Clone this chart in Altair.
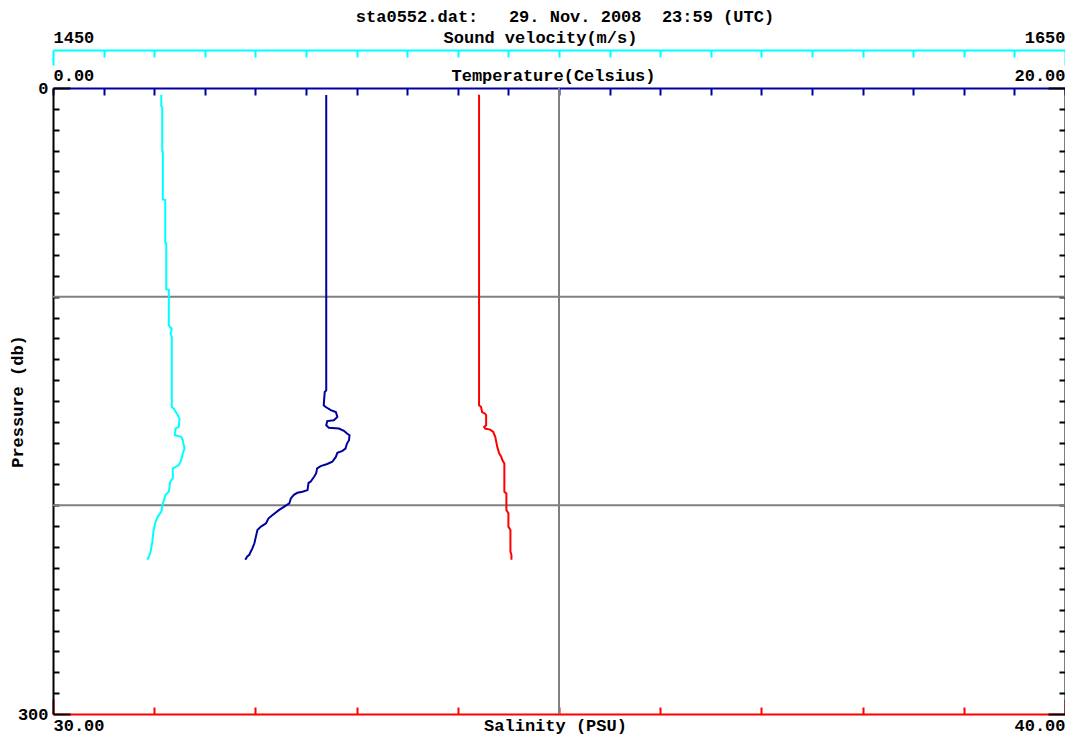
import altair as alt
import pandas as pd

W, H = 1012, 626

# Sound velocity profile (m/s) vs pressure (db)
cyan_p = [3.2, 8.7, 9.2, 30.2, 30.5, 53.4, 53.7, 74.0, 74.3, 96.4, 96.7, 113.8, 115.5, 117.8,
          119.4, 152.9, 153.7, 156.8, 158.5, 162.4, 163.2, 166.4, 167.2, 168.8, 172.8, 175.2,
          178.3, 180.7, 181.5, 182.3, 187.1, 188.7, 193.5, 195.0, 199.1, 203.0, 205.4, 207.8,
          211.8, 217.4, 222.2, 224.5, 226.1]
cyan_v = [1471.40, 1471.40, 1471.59, 1471.59, 1471.71, 1471.71, 1472.18, 1472.18, 1472.38,
          1472.38, 1472.89, 1472.89, 1473.48, 1473.23, 1473.48, 1473.48, 1473.88, 1474.67,
          1475.00, 1474.86, 1474.21, 1474.07, 1475.33, 1475.65, 1475.98, 1475.65, 1475.33,
          1474.86, 1474.35, 1473.68, 1473.68, 1473.17, 1472.89, 1472.24, 1471.71, 1471.40,
          1470.73, 1470.28, 1469.88, 1469.63, 1469.29, 1468.96, 1468.64]

# Temperature profile (Celsius)
temp_p = [3.3, 138.5, 144.9, 145.7, 152.1, 152.9, 154.4, 155.3, 157.6, 159.2, 159.6, 161.6,
          162.8, 163.2, 164.3, 165.6, 166.4, 168.8, 170.4, 172.8, 173.9, 174.8, 176.8, 179.1,
          180.2, 181.2, 182.3, 184.7, 186.3, 188.7, 189.2, 192.7, 193.5, 194.0, 195.0, 196.7,
          199.1, 200.6, 202.2, 204.6, 206.2, 208.6, 210.2, 211.8, 215.0, 218.2, 220.6, 222.1,
          223.7, 224.5, 226.1]
temp_t = [5.40, 5.40, 5.40, 5.37, 5.35, 5.39, 5.49, 5.59, 5.62, 5.55, 5.42, 5.40,
          5.45, 5.65, 5.75, 5.81, 5.86, 5.85, 5.81, 5.78, 5.72, 5.62, 5.59, 5.52,
          5.42, 5.29, 5.22, 5.20, 5.16, 5.09, 5.05, 5.03, 4.93, 4.83, 4.76, 4.70,
          4.67, 4.57, 4.47, 4.34, 4.26, 4.21, 4.11, 4.04, 4.01, 3.98, 3.94, 3.91,
          3.88, 3.84, 3.80]

# Salinity profile (PSU)
sal_p = [3.2, 152.1, 152.9, 155.3, 156.1, 156.8, 161.6, 162.4, 163.2, 163.7, 164.8, 167.2,
         169.6, 172.0, 175.2, 176.8, 178.3, 180.0, 193.5, 194.3, 202.2, 203.8, 210.2, 211.8,
         222.1, 223.7, 226.1]
sal_s = [34.21, 34.21, 34.23, 34.24, 34.27, 34.28, 34.28, 34.26, 34.27, 34.32, 34.35, 34.37,
         34.38, 34.39, 34.41, 34.43, 34.44, 34.46, 34.46, 34.48, 34.48, 34.50, 34.50, 34.52,
         34.52, 34.53, 34.53]

vel_ticks = list(range(1450, 1651, 10))
temp_ticks = list(range(0, 21))
sal_ticks = list(range(30, 41))
pres_ticks = list(range(0, 301, 10))
grid_pressure = [100, 200]
grid_salinity = [35]

title_text = "sta0552.dat:\u00a0\u00a0\u00a029.\u00a0Nov.\u00a02008\u00a0\u00a023:59\u00a0(UTC)"

CYAN = "#00FFFF"
NAVY = "#0000A0"
RED = "#FF0000"
GREY = "#808080"
FONT = "Liberation Mono"
FS = 17

common = dict(labelFont=FONT, labelFontSize=FS, labelFontWeight="bold", labelColor="black",
              titleFont=FONT, titleFontSize=FS, titleFontWeight="bold", titleColor="black",
              grid=False, labelOverlap=False, domainWidth=2, tickWidth=2)


def ends(a, b):
    return f"datum.value == {a} || datum.value == {b} ? datum.label : ''"


def tsize(a, b, big, small):
    return {"condition": {"test": f"datum.value == {a} || datum.value == {b}", "value": big},
            "value": small}


ysc = alt.Scale(domain=[0, 300], reverse=True, nice=False, zero=False)

# end ticks are long (15); label offset = tickSize + labelPadding
vel_axis = alt.Axis(orient="bottom", offset=-(H + 38), values=vel_ticks, format="d",
                    labelExpr=ends(1450, 1650), labelFlush=True, labelBaseline="alphabetic",
                    labelPadding=-23, tickSize=tsize(1450, 1650, 15, 7),
                    domainColor=CYAN, tickColor=CYAN, title="Sound velocity(m/s)",
                    titleX=487, titleY=-8, titleBaseline="alphabetic", titleAlign="center",
                    **common)
temp_axis = alt.Axis(orient="bottom", offset=-H, values=temp_ticks, format=".2f",
                     labelExpr=ends(0, 20), labelFlush=True, labelBaseline="alphabetic",
                     labelPadding=-15, tickSize=7,
                     domainColor=NAVY, tickColor=NAVY, title="Temperature(Celsius)",
                     titleX=500, titleY=-8, titleBaseline="alphabetic", titleAlign="center",
                     **common)
sal_axis = alt.Axis(orient="top", offset=-H, values=sal_ticks, format=".2f",
                    labelExpr=ends(30, 40), labelFlush=True, labelBaseline="alphabetic",
                    labelPadding=-31, tickSize=tsize(30, 40, 15, 7),
                    domainColor=RED, tickColor=RED, title="Salinity (PSU)",
                    titleX=502, titleY=16, titleBaseline="alphabetic", titleAlign="center",
                    **common)
left_axis = alt.Axis(orient="right", offset=-W, values=pres_ticks, format="d",
                     labelExpr=ends(0, 300), labelAlign="right", labelBaseline="middle",
                     labelPadding=-22, tickSize=tsize(0, 300, 17, 6),
                     domainColor="black", tickColor="black", title="Pressure (db)",
                     titleX=-36, titleY=H / 2, titleAngle=270, titleAlign="center",
                     titleBaseline="middle", **common)
right_axis = alt.Axis(orient="left", offset=-W, values=pres_ticks, labels=False,
                      tickSize=tsize(0, 300, 17, 6), domainColor="black", tickColor="black",
                      title=None, grid=False, domainWidth=2, tickWidth=2)

df_c = pd.DataFrame({"p": cyan_p, "v": cyan_v, "i": range(len(cyan_p))})
df_t = pd.DataFrame({"p": temp_p, "t": temp_t, "i": range(len(temp_p))})
df_s = pd.DataFrame({"p": sal_p, "s": sal_s, "i": range(len(sal_p))})

grid_h = alt.Chart(pd.DataFrame({"p": grid_pressure})).mark_rule(
    color=GREY, strokeWidth=2).encode(y=alt.Y("p:Q", scale=ysc, axis=None))
grid_v = alt.Chart(pd.DataFrame({"s": grid_salinity})).mark_rule(
    color=GREY, strokeWidth=2).encode(
    x=alt.X("s:Q", scale=alt.Scale(domain=[30, 40], nice=False, zero=False), axis=None))

line_c = alt.Chart(df_c).mark_line(color=CYAN, strokeWidth=2).encode(
    x=alt.X("v:Q", scale=alt.Scale(domain=[1450, 1650], nice=False, zero=False), axis=vel_axis),
    y=alt.Y("p:Q", scale=ysc, axis=left_axis),
    order="i:Q")
line_t = alt.Chart(df_t).mark_line(color=NAVY, strokeWidth=2).encode(
    x=alt.X("t:Q", scale=alt.Scale(domain=[0, 20], nice=False, zero=False), axis=temp_axis),
    y=alt.Y("p:Q", scale=ysc, axis=right_axis),
    order="i:Q")
line_s = alt.Chart(df_s).mark_line(color=RED, strokeWidth=2).encode(
    x=alt.X("s:Q", scale=alt.Scale(domain=[30, 40], nice=False, zero=False), axis=sal_axis),
    y=alt.Y("p:Q", scale=ysc, axis=None),
    order="i:Q")

chart = alt.layer(grid_h, grid_v, line_c, line_t, line_s).resolve_scale(
    x="independent").resolve_axis(x="independent", y="independent").properties(
    width=W, height=H,
    autosize=alt.AutoSizeParams(type="none"),
    padding={"left": 45, "top": 80, "right": 0, "bottom": 20},
    title=alt.TitleParams(text=title_text, font=FONT, fontSize=FS, fontWeight="bold",
                          color="black", anchor="middle", offset=2, dx=6, dy=8),
).configure_view(stroke=None).configure(background="white")

chart.save("out.html", embed_options={"renderer": "svg", "actions": False})
